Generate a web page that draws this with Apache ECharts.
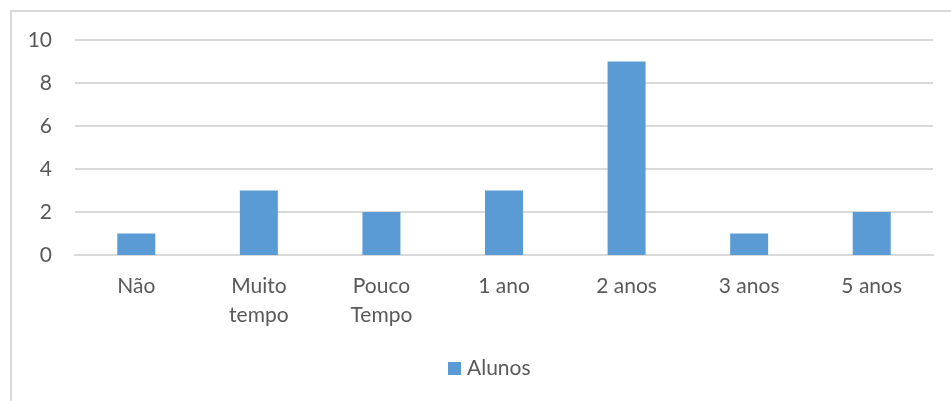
<!DOCTYPE html>
<html><head><meta charset="utf-8">
<script src="https://cdn.jsdelivr.net/npm/echarts@6/dist/echarts.min.js"></script>
<style>html,body{margin:0;padding:0;background:#fff}#c{width:951px;height:401px}</style>
</head><body><div id="c"></div>
<script>
const categories = ["Não", "Muito\ntempo", "Pouco\nTempo", "1 ano", "2 anos", "3 anos", "5 anos"];
const alunos = [1, 3, 2, 3, 9, 1, 2];
const seriesName = "Alunos";
const chart = echarts.init(document.getElementById('c'));
const font = 'Lato, "Open Sans", sans-serif';
chart.setOption({
  animation: false,
  graphic: [{type:'rect', shape:{x:11,y:11,width:960,height:420}, style:{fill:'none', stroke:'#d9d9d9', lineWidth:2}, silent:true}],
  grid: {left: 75, right: 18, top: 40, bottom: 146},
  legend: {data:[seriesName], top: 358, left: 448, itemWidth: 13, itemHeight: 13, icon: 'rect', itemGap: 6, padding: 0,
    textStyle: {fontFamily: font, fontSize: 21, color: '#595959', padding: [0,0,0,1]}},
  xAxis: {type:'category', data: categories,
    axisLine:{lineStyle:{color:'#d9d9d9', width:2}}, axisTick:{show:false},
    axisLabel:{fontFamily:font, fontSize:21, color:'#595959', lineHeight:29, margin:17, interval:0}},
  yAxis: {type:'value', min:0, max:10, interval:2,
    axisLine:{show:false}, axisTick:{show:false},
    splitLine:{lineStyle:{color:'#d9d9d9', width:2}},
    axisLabel:{fontFamily:font, fontSize:21, color:'#595959', margin:23}},
  series: [{name: seriesName, type:'bar', data: alunos, barWidth: 38, itemStyle:{color:'#5b9bd5'}}]
});
</script></body></html>
